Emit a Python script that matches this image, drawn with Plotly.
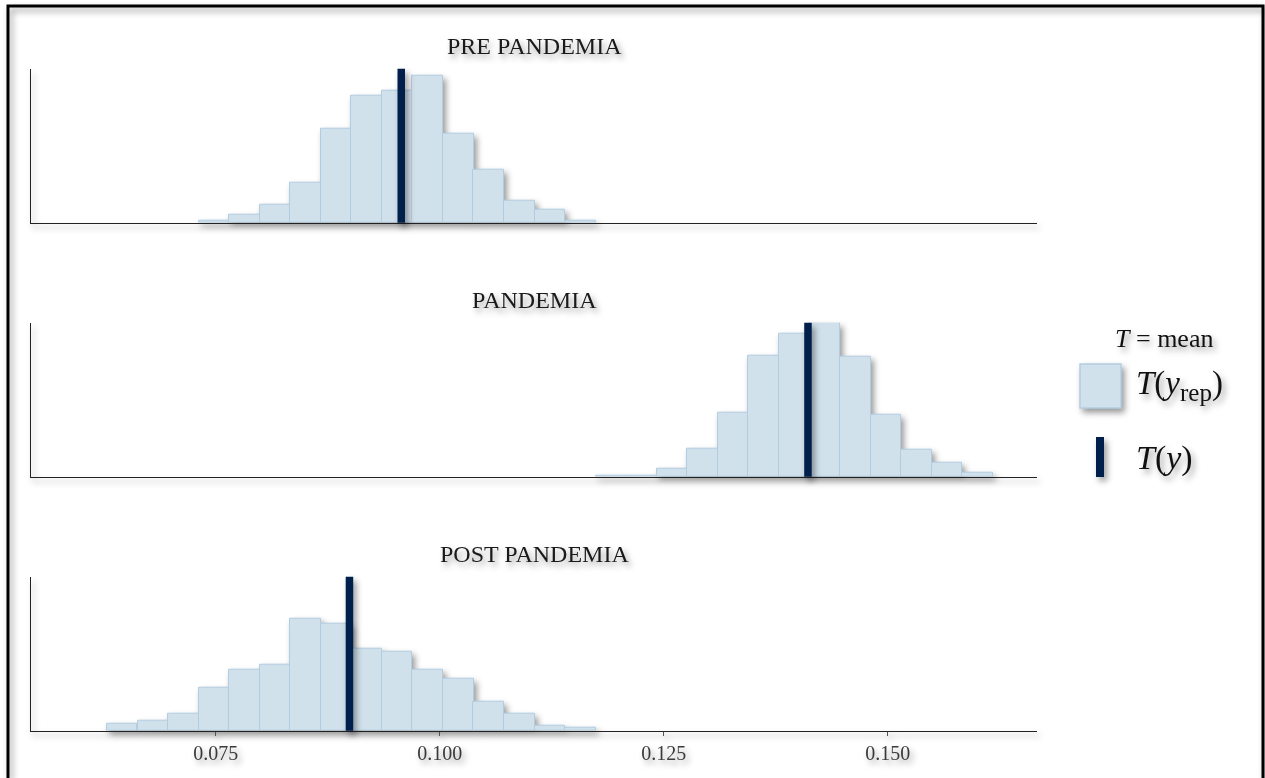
import plotly.graph_objects as go
from plotly.subplots import make_subplots

# ---------------- data ----------------
panel_titles = ["PRE PANDEMIA", "PANDEMIA", "POST PANDEMIA"]

bin_centers = [0.06457, 0.06798, 0.07139, 0.07480, 0.07821, 0.08161, 0.08502,
               0.08843, 0.09184, 0.09525, 0.09866, 0.10207, 0.10547, 0.10888,
               0.11229, 0.11570, 0.11911, 0.12252, 0.12593, 0.12933, 0.13274,
               0.13615, 0.13956, 0.14297, 0.14638, 0.14979, 0.15319, 0.15660,
               0.16001]
bin_width = 0.003408

counts_pre = [0, 0, 0, 13, 41, 98, 214, 502, 680, 707, 786, 475, 285, 118, 68,
              13, 0, 0, 0, 0, 0, 0, 0, 0, 0, 0, 0, 0, 0]
counts_pandemia = [0, 0, 0, 0, 0, 0, 0, 0, 0, 0, 0, 0, 0, 0, 0, 0,
                   3, 3, 41, 152, 341, 646, 764, 823, 639, 330, 146, 77, 21]
counts_post = [39, 53, 91, 230, 327, 353, 600, 570, 438, 422, 326, 278, 155,
               91, 26, 14, 0, 0, 0, 0, 0, 0, 0, 0, 0, 0, 0, 0, 0]

t_y = [0.09571, 0.14110, 0.08993]   # observed statistic T(y) per group

x_tick_vals = [0.075, 0.100, 0.125, 0.150]
x_tick_text = ["0.075", "0.100", "0.125", "0.150"]
x_range = [0.05439, 0.16666]

# ---------------- style ----------------
FILL = "#d1e1ec"
EDGE = "#b3cde0"
DARK = "#011f4b"
FONT = "Liberation Serif"

W, H = 1265, 778
L, R, T, B = 31, 228, 68, 47
PW, PH = W - L - R, H - T - B


def px_x(px):
    return (px - L) / PW


def px_y(py):
    return (H - B - py) / PH


panel_tops = [68.7, 322.7, 576.7]
panel_h = 154.0

fig = make_subplots(rows=3, cols=1, shared_xaxes=True)

all_counts = [counts_pre, counts_pandemia, counts_post]
ymax = max(max(c) for c in all_counts)

for i, counts in enumerate(all_counts):
    yvals = [c if c > 0 else None for c in counts]
    fig.add_trace(
        go.Bar(
            x=bin_centers,
            y=yvals,
            width=[bin_width] * len(bin_centers),
            marker=dict(color=FILL, line=dict(color=EDGE, width=1)),
            showlegend=False,
            hoverinfo="skip",
        ),
        row=i + 1, col=1,
    )
    fig.add_vline(x=t_y[i], line_color=DARK, line_width=7.5, row=i + 1, col=1)

for i in range(3):
    top = panel_tops[i]
    dom = [px_y(top + panel_h), px_y(top)]
    yname = "yaxis" if i == 0 else f"yaxis{i + 1}"
    xname = "xaxis" if i == 0 else f"xaxis{i + 1}"
    fig.layout[yname].update(
        domain=dom, range=[0, ymax], showline=True, linecolor="#222",
        linewidth=1.4, showticklabels=False, ticks="", showgrid=False,
        zeroline=False, fixedrange=True,
    )
    last = i == 2
    fig.layout[xname].update(
        range=x_range, showline=True, linecolor="#222", linewidth=1.4,
        showgrid=False, zeroline=False,
        ticks="outside" if last else "", ticklen=4, tickcolor="#555",
        tickwidth=1, tickvals=x_tick_vals, ticktext=x_tick_text,
        showticklabels=last,
        tickfont=dict(family=FONT, size=20, color="#3a3a3a"),
    )
    fig.add_annotation(
        x=0.5, y=px_y(top - 23), xref="paper", yref="paper",
        text=panel_titles[i], showarrow=False, xanchor="center",
        yanchor="middle", font=dict(family=FONT, size=24, color="#1a1a1a"),
    )

# legend (drawn manually)
fig.add_annotation(x=px_x(1113), y=px_y(338), xref="paper", yref="paper",
                   text="<i>T</i> = mean", showarrow=False, xanchor="left",
                   yanchor="middle", font=dict(family=FONT, size=26, color="#111"))
fig.add_annotation(x=px_x(1134), y=px_y(385), xref="paper", yref="paper",
                   text="<i>T</i>(<i>y</i><sub><span style='font-size:25px'>rep</span></sub>)",
                   showarrow=False, xanchor="left", yanchor="middle",
                   font=dict(family=FONT, size=33, color="#111"))
fig.add_annotation(x=px_x(1134), y=px_y(458), xref="paper", yref="paper",
                   text="<i>T</i>(<i>y</i>)", showarrow=False,
                   xanchor="left", yanchor="middle",
                   font=dict(family=FONT, size=34, color="#111"))
fig.add_shape(type="rect", xref="paper", yref="paper",
              x0=px_x(1080), x1=px_x(1121), y0=px_y(408), y1=px_y(364),
              fillcolor=FILL, line=dict(color=EDGE, width=1.5))
fig.add_shape(type="rect", xref="paper", yref="paper",
              x0=px_x(1096), x1=px_x(1104), y0=px_y(477), y1=px_y(437),
              fillcolor=DARK, line=dict(width=0))
# outer frame
fig.add_shape(type="rect", xref="paper", yref="paper",
              x0=px_x(8), x1=px_x(1263), y0=px_y(800), y1=px_y(6),
              fillcolor="rgba(0,0,0,0)", line=dict(color="#000", width=3))

fig.update_layout(
    width=W, height=H,
    margin=dict(l=L, r=R, t=T, b=B),
    paper_bgcolor="rgba(0,0,0,0)", plot_bgcolor="rgba(0,0,0,0)",
    bargap=0, showlegend=False,
    font=dict(family=FONT),
)

page_js = (
    "document.body.style.margin='0';"
    "document.body.style.overflow='hidden';"
    "document.querySelectorAll('.main-svg').forEach(function(s){"
    "s.style.filter='drop-shadow(3px 4px 3px rgba(0,0,0,0.4))';});"
)
fig.write_html("out.html", post_script=page_js,
               config={"displayModeBar": False})
